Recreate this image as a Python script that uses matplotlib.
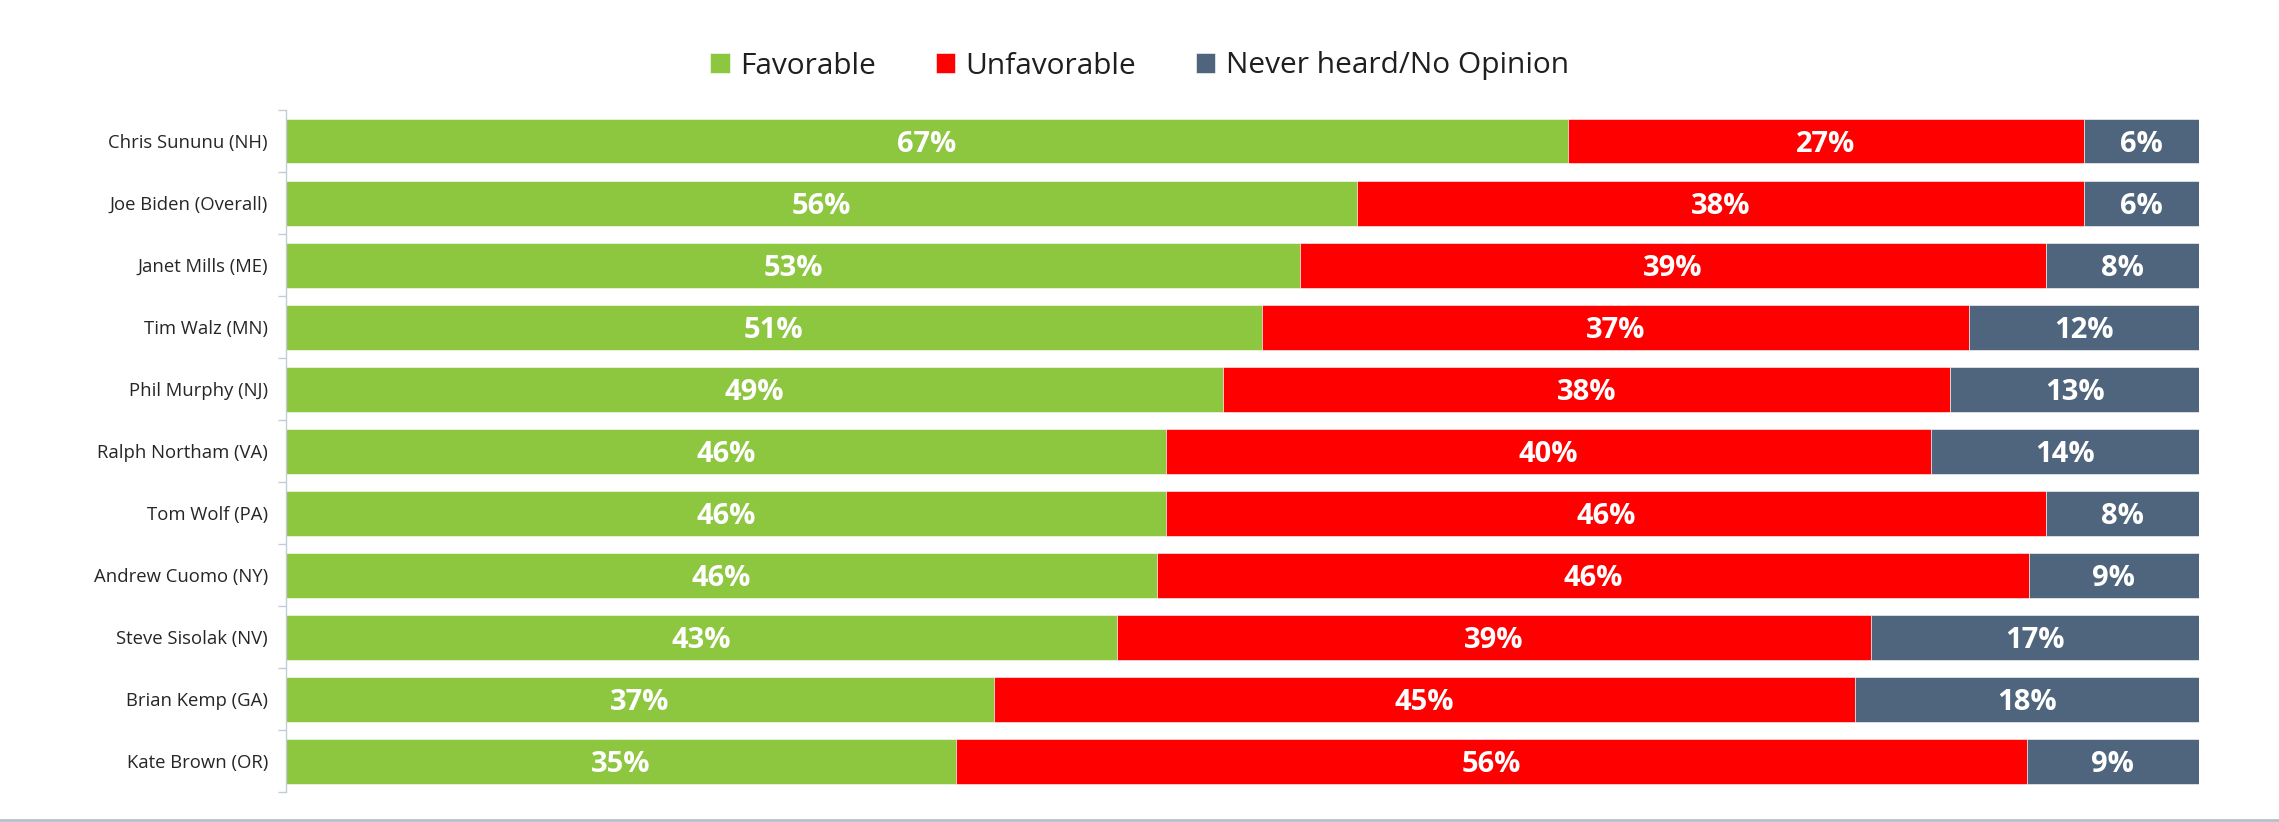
import numpy as np
import matplotlib.pyplot as plt
from matplotlib.lines import Line2D

# nombres de los candidatos (de arriba a abajo)
candidatos = ["Chris Sununu (NH)", "Joe Biden (Overall)", "Janet Mills (ME)",
              "Tim Walz (MN)", "Phil Murphy (NJ)", "Ralph Northam (VA)",
              "Tom Wolf (PA)", "Andrew Cuomo (NY)", "Steve Sisolak (NV)",
              "Brian Kemp (GA)", "Kate Brown (OR)"]

# porcentajes de cada serie
favorable = [67, 56, 53, 51, 49, 46, 46, 46, 43, 37, 35]
unfavorable = [27, 38, 39, 37, 38, 40, 46, 46, 39, 45, 56]
never_heard = [6, 6, 8, 12, 13, 14, 8, 9, 17, 18, 9]

series = ["Favorable", "Unfavorable", "Never heard/No Opinion"]
colores = ["#8DC63F", "#FF0000", "#4F657D"]

plt.rcParams['font.family'] = ['Open Sans', 'DejaVu Sans']

fig = plt.figure(figsize=(22.79, 8.22), dpi=100)
ax = fig.add_axes([286 / 2279, 0.036, (2199 - 286) / 2279, 0.83])

valores = np.array([favorable, unfavorable, never_heard], dtype=float)
totales = valores.sum(axis=0)
fracciones = valores / totales

y = np.arange(len(candidatos))
izquierda = np.zeros(len(candidatos))
for i, nombre in enumerate(series):
    ax.barh(y, fracciones[i], left=izquierda, height=0.72, color=colores[i],
            edgecolor="white", linewidth=0.4, label=nombre)
    # etiquetas en el centro de cada segmento
    for j in range(len(candidatos)):
        ax.text(izquierda[j] + fracciones[i][j] / 2, y[j] + 0.05,
                "%d%%" % valores[i][j], ha="center", va="center",
                color="white", fontsize=21, fontweight="bold")
    izquierda += fracciones[i]

ax.set_xlim(0, 1)
ax.set_ylim(len(candidatos) - 0.5, -0.5)
ax.set_xticks([])
ax.set_yticks(y)
ax.set_yticklabels(candidatos, fontsize=13.3, color="#262626")
ax.set_yticks(np.arange(len(candidatos) + 1) - 0.5, minor=True)
ax.tick_params(axis="y", which="major", length=0, pad=13)
ax.tick_params(axis="y", which="minor", length=6, color="#C3CCD4", width=1)

for lado in ["top", "right", "bottom"]:
    ax.spines[lado].set_visible(False)
ax.spines["left"].set_color("#C3CCD4")
ax.spines["left"].set_linewidth(1)

fig.legend(loc="center", bbox_to_anchor=(0.5, 1 - 66 / 822), ncol=3,
           frameon=False, fontsize=21.5, handlelength=0.65, handleheight=0.65,
           handletextpad=0.35, columnspacing=2.0, labelcolor="#1F1F1F")

# línea inferior de la imagen
fig.add_artist(Line2D([0, 1], [0.002, 0.002], transform=fig.transFigure,
                      color="#B4C0C8", linewidth=2))

fig.savefig("out.png", dpi=100, facecolor="white")
